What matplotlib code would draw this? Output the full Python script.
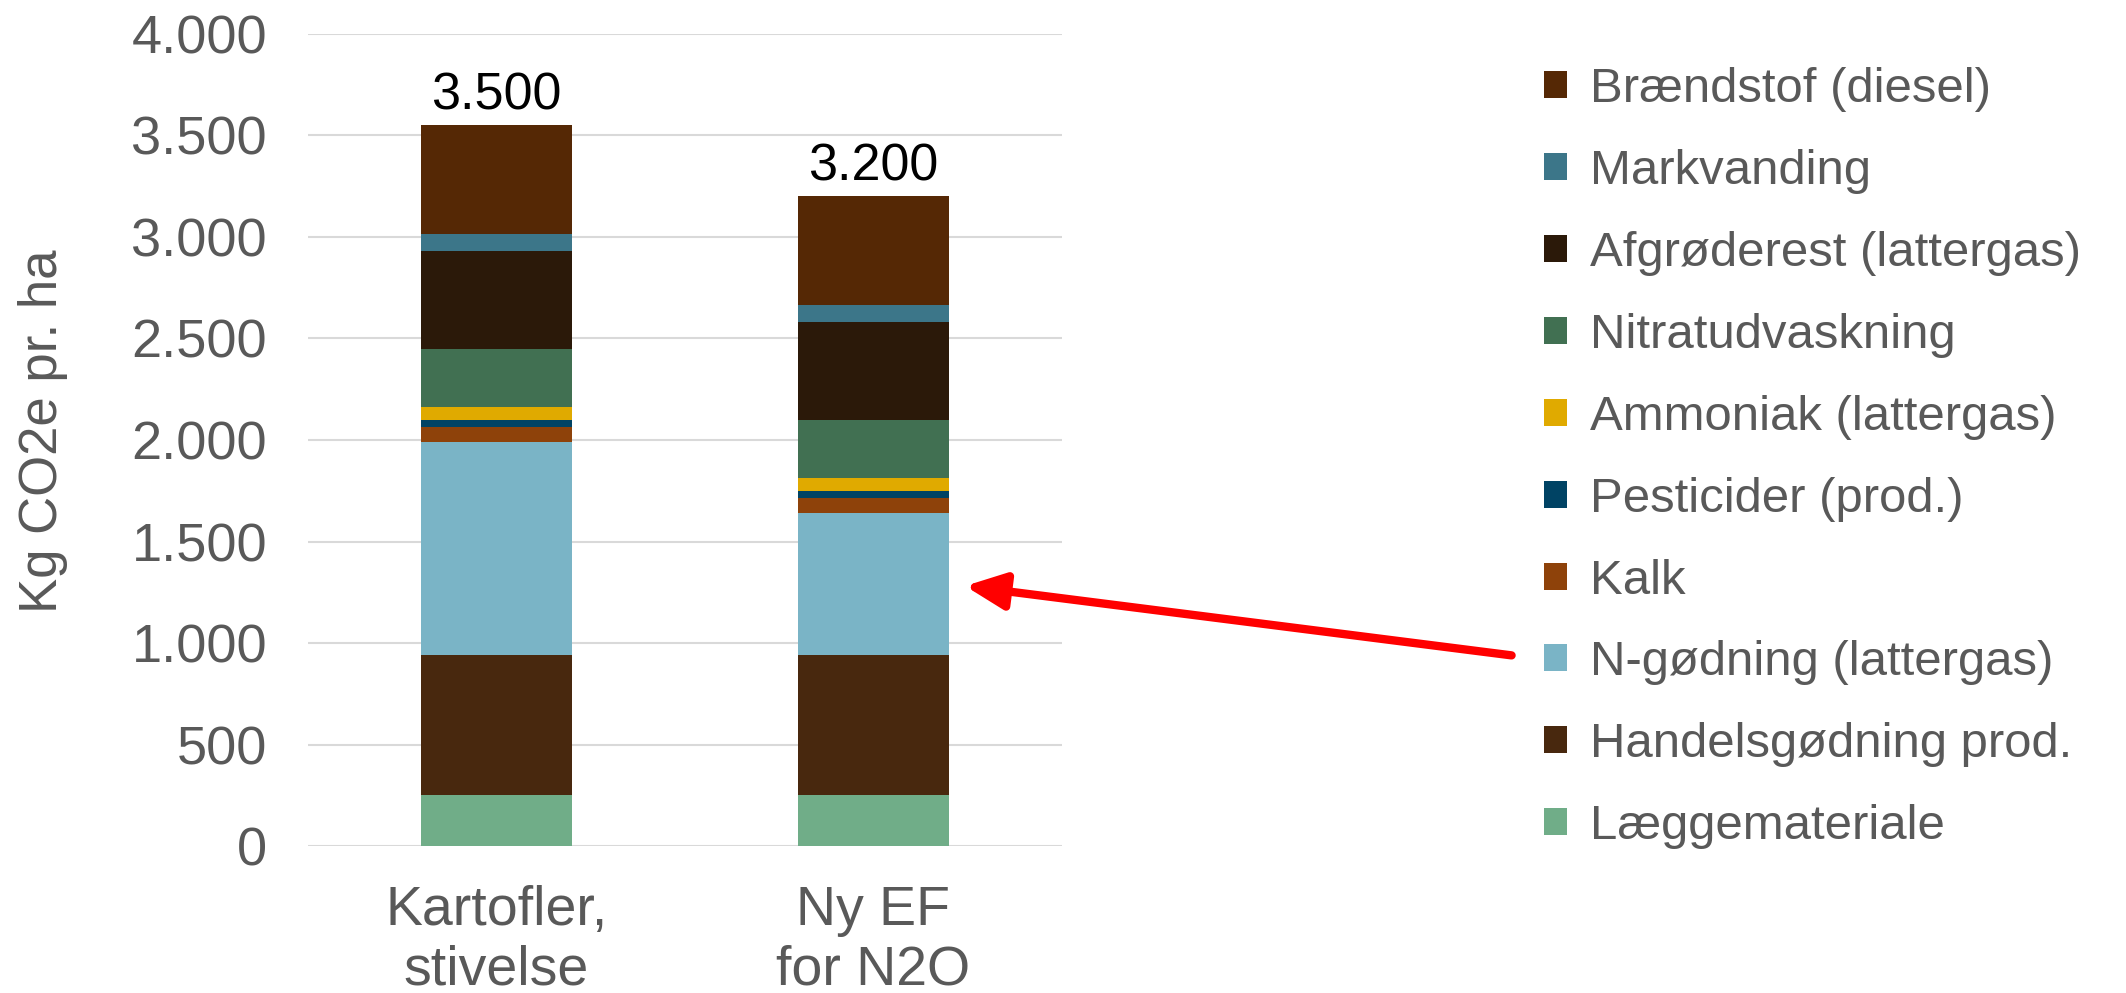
import matplotlib
matplotlib.use("Agg")
import matplotlib.pyplot as plt
from matplotlib.patches import Patch
import numpy as np

plt.rcParams['font.family'] = ['Liberation Sans', 'DejaVu Sans']

# Categories on the x axis
categories = ["Kartofler,\nstivelse", "Ny EF\nfor N2O"]

# Emission sources, bottom of the stack first
sources = [
    "Læggemateriale",
    "Handelsgødning prod.",
    "N-gødning (lattergas)",
    "Kalk",
    "Pesticider (prod.)",
    "Ammoniak (lattergas)",
    "Nitratudvaskning",
    "Afgrøderest (lattergas)",
    "Markvanding",
    "Brændstof (diesel)",
]

# Kg CO2e per ha for each source (same order as sources)
laeggemateriale = [250, 250]
handelsgodning = [690, 690]
n_godning = [1050, 700]
kalk = [75, 75]
pesticider = [35, 35]
ammoniak = [65, 65]
nitratudvaskning = [285, 285]
afgroderest = [480, 480]
markvanding = [85, 85]
braendstof = [535, 535]

# Totals printed above the bars
total_labels = [3500, 3200]

colors = [
    "#70AD88",  # Læggemateriale
    "#48280E",  # Handelsgødning prod.
    "#7AB4C6",  # N-gødning
    "#8E420A",  # Kalk
    "#004364",  # Pesticider
    "#E0AA00",  # Ammoniak
    "#417052",  # Nitratudvaskning
    "#2B1909",  # Afgrøderest
    "#3C7689",  # Markvanding
    "#552805",  # Brændstof
]

series = [laeggemateriale, handelsgodning, n_godning, kalk, pesticider,
          ammoniak, nitratudvaskning, afgroderest, markvanding, braendstof]

fig = plt.figure(figsize=(21.26, 9.93), dpi=100)
ax = fig.add_axes([0.1449, 0.148, 0.3546, 0.8178])

x = np.arange(len(categories))
bottom = np.zeros(len(categories))
for vals, col, name in zip(series, colors, sources):
    ax.bar(x, vals, width=0.40, bottom=bottom, color=col, label=name, zorder=3)
    bottom += np.array(vals)

for xi, top, lab in zip(x, bottom, total_labels):
    ax.text(xi, top + 25, f"{lab:,}".replace(",", "."), ha="center", va="bottom",
            fontsize=37.5, color="black")

ax.set_xlim(-0.5, 1.5)
ax.set_ylim(0, 4000)
ax.set_yticks(np.arange(0, 4001, 500))
ax.set_yticklabels([f"{v:,}".replace(",", ".") for v in range(0, 4001, 500)])
ax.set_xticks(x)
ax.set_xticklabels(categories)
ax.tick_params(axis="both", length=0, colors="#595959")
ax.tick_params(axis="y", pad=29.5, labelsize=39)
ax.tick_params(axis="x", pad=28, labelsize=40)
ax.grid(axis="y", color="#D9D9D9", lw=1.5, zorder=0)
for s in ax.spines.values():
    s.set_visible(False)
ax.set_ylabel("Kg CO2e pr. ha", fontsize=38, color="#595959")
ax.yaxis.set_label_coords(-0.318, 0.5105)

# Legend: top entry is the top of the stack
handles = [Patch(facecolor=c, edgecolor="none") for c in colors][::-1]
labels = sources[::-1]
fig.legend(handles, labels, loc="upper left", bbox_to_anchor=(0.717, 0.952),
           frameon=False, fontsize=35.4, labelcolor="#595959",
           handlelength=0.47, handleheight=0.47, handletextpad=0.46,
           labelspacing=0.75, borderaxespad=0)

# Arrow pointing at the N-gødning segment of the second bar
ax.annotate("", xy=(1.243, 1281), xycoords="data",
            xytext=(0.711, 0.340), textcoords="figure fraction",
            arrowprops=dict(arrowstyle="-|>,head_length=2.4,head_width=1.1",
                            color="#FF0000", lw=6, shrinkA=0, shrinkB=0),
            annotation_clip=False)

fig.savefig("out.png", dpi=100)
